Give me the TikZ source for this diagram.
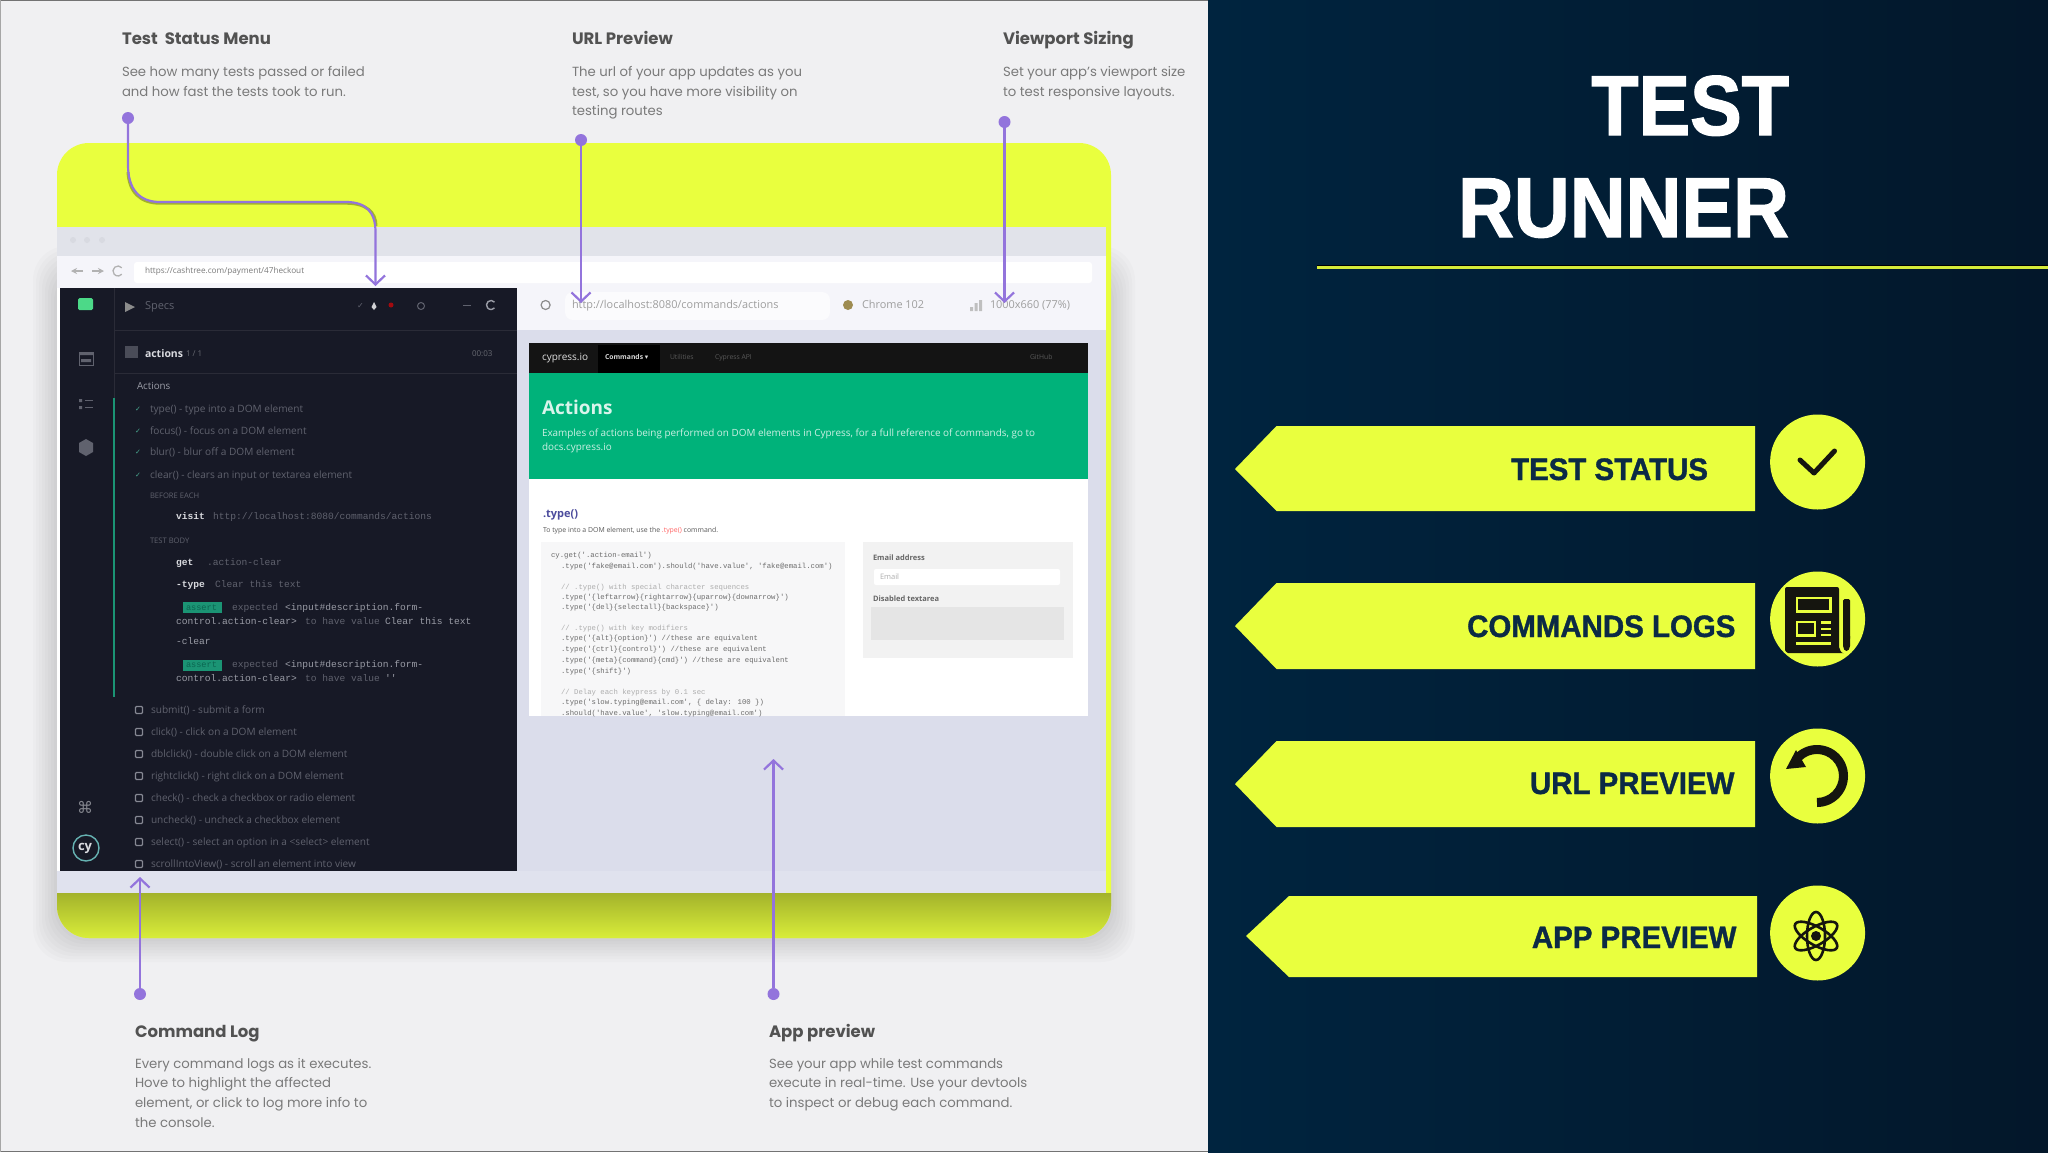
\documentclass[tikz,border=0pt]{standalone}
\usepackage{fontspec}
\usetikzlibrary{arrows.meta,shapes.geometric}
\setmainfont{Poppins}
\newfontfamily\lblfont[FakeStretch=0.95,BoldFeatures={FakeBold=1.2}]{Liberation Sans}
\newfontfamily\ttlfont[FakeStretch=0.91,BoldFeatures={FakeBold=1.5}]{Liberation Sans}
\newfontfamily\uifont{Open Sans}
\newfontfamily\monofont{Liberation Mono}
\newfontfamily\symfont{DejaVu Sans}
\definecolor{panel}{HTML}{F0F0F2}
\definecolor{navyA}{HTML}{00243F}
\definecolor{navyM}{HTML}{001E38}
\definecolor{navyB}{HTML}{03172A}
\definecolor{lime}{HTML}{E9FF3E}
\definecolor{labelink}{HTML}{0B2A45}
\definecolor{iconink}{HTML}{15150F}
\definecolor{conn}{HTML}{9374DC}
\definecolor{dark}{HTML}{171926}
\definecolor{emer}{HTML}{00B27A}
\definecolor{wbg}{HTML}{DBDDEB}
\definecolor{tbar}{HTML}{E1E3EA}
\definecolor{tool}{HTML}{F5F5FA}
\definecolor{dimtxt}{HTML}{60626E}
\definecolor{midtxt}{HTML}{9A9CA6}
\definecolor{hitxt}{HTML}{D9DADF}
\definecolor{tealbar}{HTML}{1B9474}
\newcommand{\fs}[1]{\fontsize{#1}{#1}\selectfont}
\newcommand{\T}[5]{\node[txt,#4] (#1) at (#2,#3) {#5};}
\tikzset{
  txt/.style={inner sep=0,outer sep=0,anchor=mid west},
  head/.style={font=\bfseries\fs{16.5},text=black!68,yshift=-3.5pt},
  desc/.style={font=\fs{13.25},text=black!52,yshift=-2pt},
  lbl/.style={font=\lblfont\bfseries\fs{31},text=labelink,anchor=base east},
  ttl/.style={font=\ttlfont\bfseries\fs{85},text=white,anchor=base east},
  tag/.style={fill=lime,draw=none},
  badge/.style={circle,fill=lime,draw=none,minimum size=95pt,inner sep=0},
  dotn/.style={circle,fill=conn,draw=none,minimum size=12pt,inner sep=0},
  connector/.style={draw=conn,line width=2.2pt,-{Straight Barb[length=9pt,width=19pt,line width=2.2pt]}},
  ink/.style={draw=iconink,line cap=round,line join=round},
  ui/.style={font=\uifont\fs{10.1},text=dimtxt,yshift=-1pt},
  mono/.style={font=\monofont\fs{9.6},text=dimtxt},
  monob/.style={font=\monofont\bfseries\fs{9.6},text=hitxt},
  monoh/.style={font=\monofont\fs{9.6},text=midtxt},
  code/.style={font=\monofont\fs{7.3},text=black!58},
  codec/.style={font=\monofont\fs{7.3},text=black!32},
  tb/.style={font=\uifont\fs{10.9},text=black!38,yshift=-1pt},
}
\begin{document}
\begin{tikzpicture}[x=1pt,y=-1pt]
\useasboundingbox (0,0) rectangle (2048,1152);
% panels
\fill[panel] (0,0) rectangle (1208,1152);
\fill[black!55] (0,0) rectangle (1208,1.2);
\fill[black!55] (0,1150.5) rectangle (1208,1152);
\fill[black!35] (0,0) rectangle (0.8,1152);
\shade[left color=navyA,middle color=navyM,right color=navyB] (1208,0) rectangle (2048,1152);
% soft shadow of the backdrop
\foreach \d in {3,6,...,24}{
  \fill[black,opacity=.016,rounded corners=34pt] (57-\d,270-\d) rectangle (1111+\d,938+\d);
}
% yellow backdrop
\fill[lime,rounded corners=32pt] (57,143) rectangle (1111,938);
\shade[top color=lime!70!black,bottom color=lime!93!black] (57,893) -- (1111,893) {[rounded corners=32pt] -- (1111,938) -- (57,938)} -- cycle;
% browser window
\fill[white] (57,227) rectangle (1106,893);
\fill[tbar] (57,227) rectangle (1106,256);
\fill[black!4!tbar] (73,240) circle (3) (87,240) circle (3) (102,240) circle (3);
\fill[tool] (57,256) rectangle (1106,288);
\fill[white,rounded corners=3pt] (134,262) rectangle (1092,283);
\draw[black!30,line width=1.3pt,-{Stealth[length=6pt,width=6pt]}] (83,271) -- (71,271);
\draw[black!30,line width=1.3pt,-{Stealth[length=6pt,width=6pt]}] (92,271) -- (104,271);
\draw[black!30,line width=1.3pt] (118,271) ++(-40:5) arc (-40:-320:5);
\T{urlbar}{145}{271}{}{\uifont\fs{8.2}\color{black!52}https://cashtree.com/payment/47heckout}
\fill[wbg] (516,288) rectangle (1106,871);
\fill[wbg!85!white] (57,871) rectangle (1106,893);
% app toolbar
\fill[tool] (516,288) rectangle (1106,330);
\draw[black!45,line width=1.2pt] (545.6,305) circle (4.5);
\fill[tool!40!white,rounded corners=8pt] (565,292) rectangle (830,320);
\T{apurl}{572}{305}{tb}{http://localhost:8080/commands/actions}
\fill[black!55!yellow!60!brown] (848,305) circle (5);
\T{apbrow}{862}{305}{tb}{Chrome 102}
\fill[black!25] (970,307) rectangle (973,311) (974.5,303) rectangle (977.5,311) (979,300) rectangle (982,311);
\T{apsize}{990}{305}{tb}{1000x660 (77\%)}
% iframe
\fill[white] (528.5,343) rectangle (1088,716);
\fill[black!92] (528.5,343) rectangle (1088,373);
\fill[black] (598,345) rectangle (660,373);
\T{navbrand}{542}{358}{}{\uifont\fs{10}\color{white!88!black}cypress.io}
\T{navcmd}{605}{357}{}{\uifont\bfseries\fs{6.8}\color{white!85!black}Commands {\symfont▾}}
\T{navutil}{670}{357}{}{\uifont\fs{6.8}\color{black!65}Utilities}
\T{navapi}{715}{357}{}{\uifont\fs{6.8}\color{black!65}Cypress API}
\T{navgit}{1030}{357}{}{\uifont\fs{6.8}\color{black!65}GitHub}
\fill[emer] (528.5,373) rectangle (1088,479);
\T{acttl}{542}{411.5}{}{\uifont\bfseries\fs{19}\color{white!85!emer}Actions}
\T{acsub}{542}{434}{}{\uifont\fs{9.9}\color{white!80!emer}Examples of actions being performed on DOM elements in Cypress, for a full reference of commands, go to}
\T{acsub2}{542}{448}{}{\uifont\fs{9.9}\color{white!80!emer}docs.cypress.io}
\T{tyh}{543}{515}{}{\uifont\bfseries\fs{11}\color{blue!45!black!70}.type()}
\T{tyd}{543}{530}{}{\uifont\fs{6.9}\color{black!65}To type into a DOM element, use the \textcolor{red!60}{.type()} command.}
\fill[blue!2!black!3!white] (541,542) rectangle (845,716);
\T{c01}{551}{555}{code}{cy.get('.action-email')}
\T{c02}{561}{566}{code}{.type('fake@email.com').should('have.value', 'fake@email.com')}
\T{c03}{561}{587}{codec}{// .type() with special character sequences}
\T{c04}{561}{597}{code}{.type('\{leftarrow\}\{rightarrow\}\{uparrow\}\{downarrow\}')}
\T{c05}{561}{607}{code}{.type('\{del\}\{selectall\}\{backspace\}')}
\T{c06}{561}{628}{codec}{// .type() with key modifiers}
\T{c07}{561}{638}{code}{.type('\{alt\}\{option\}') //these are equivalent}
\T{c08}{561}{649}{code}{.type('\{ctrl\}\{control\}') //these are equivalent}
\T{c09}{561}{660}{code}{.type('\{meta\}\{command\}\{cmd\}') //these are equivalent}
\T{c10}{561}{671}{code}{.type('\{shift\}')}
\T{c11}{561}{692}{codec}{// Delay each keypress by 0.1 sec}
\T{c12}{561}{702}{code}{.type('slow.typing@email.com', \{ delay: 100 \})}
\T{c13}{561}{712.5}{code}{.should('have.value', 'slow.typing@email.com')}
\fill[black!5] (862.5,542) rectangle (1073,658);
\T{f1}{873}{558}{}{\uifont\bfseries\fs{7.5}\color{black!60}Email address}
\fill[white,rounded corners=2pt] (874,569) rectangle (1060,585);
\T{f2}{880}{577}{}{\uifont\fs{7.5}\color{black!32}Email}
\T{f3}{873}{599}{}{\uifont\bfseries\fs{7.5}\color{black!60}Disabled textarea}
\fill[black!10] (871,607) rectangle (1064,640);
% command log panel
\fill[dark] (60,288) rectangle (517,871);
\draw[white!8!dark,line width=.8pt] (114,288) -- (114,398);
\draw[white!8!dark,line width=.8pt] (114,330) -- (517,330);
\draw[white!8!dark,line width=.8pt] (114,373) -- (517,373);
\fill[emer!70!green!70!white,rounded corners=1.5pt] (78,298) rectangle (93,310);
\fill[black!45] (125,302) -- (135,307) -- (125,312) -- cycle;
\T{specs}{145}{307}{}{\uifont\fs{11}\color{dimtxt}Specs}
\T{st1}{357}{306}{}{\symfont\fs{8}\color{dimtxt}✓}
\fill[white!80!dark] (374,302) -- (376.5,307) -- (374,310) -- (371.5,307) -- cycle;
\fill[red!60!dark] (391,305) circle (2.5);
\draw[dimtxt,line width=1pt] (421,306) circle (3.5);
\draw[dimtxt,line width=1pt] (463,305) -- (471,305);
\draw[midtxt,line width=1.4pt] (491,305) ++(-40:4.5) arc (-40:-320:4.5);
% sidebar icons
\draw[dimtxt,line width=1pt] (79,352) rectangle (93,365);
\fill[dimtxt] (79,352) rectangle (93,355) (81,359) rectangle (91,362);
\fill[dimtxt] (79,399) rectangle (82,402) (79,406) rectangle (82,409);
\draw[dimtxt,line width=1pt] (85,400.5) -- (93,400.5) (85,407.5) -- (93,407.5);
\fill[dimtxt] (86,439) -- (93,443) -- (93,452) -- (86,456) -- (79,452) -- (79,443) -- cycle;
\T{cmdk}{77}{811}{}{\symfont\fs{16}\color{midtxt!85!black}⌘}
\draw[teal!60!white,line width=1.4pt] (86,848) circle (13);
\T{cylogo}{78}{848}{}{\uifont\bfseries\fs{13}\color{hitxt}cy}
% suite rows
\fill[dimtxt!70!dark] (125,346) rectangle (138,358);
\T{suite}{145}{354.5}{}{\uifont\bfseries\fs{10.5}\color{hitxt}actions}
\T{suiten}{186}{354}{}{\uifont\fs{8}\color{dark!65!white}1 / 1}
\T{suitet}{472}{354}{}{\uifont\fs{8}\color{dark!65!white}00:03}
\T{grp}{137}{387}{}{\uifont\fs{9.8}\color{midtxt}Actions}
\draw[tealbar,line width=2.6pt] (114,398) -- (114,697);
\foreach \y/\s [count=\n] in {409/{type() - type into a DOM element},431/{focus() - focus on a DOM element},452/{blur() - blur off a DOM element},475/{clear() - clears an input or textarea element}}{
  \node[txt,font=\symfont\fs{7},text=tealbar!80!white] (ck\n) at (135,\y) {✓};
  \node[txt,ui] (tr\n) at (150,\y) {\s};
}
\T{beforeh}{150}{496}{}{\uifont\fs{7.6}\color{dimtxt}BEFORE EACH}
\T{visit}{176}{517}{monob}{visit}
\T{visitu}{213}{517}{mono}{http://localhost:8080/commands/actions}
\T{testh}{150}{541}{}{\uifont\fs{7.6}\color{dimtxt}TEST BODY}
\T{get}{176}{563}{monob}{get}
\T{getv}{207}{563}{mono}{.action-clear}
\T{typ}{176}{585}{monob}{-type}
\T{typv}{215}{585}{mono}{Clear this text}
\fill[tealbar] (183,602) rectangle (222,613);
\T{as1}{186}{608}{}{\monofont\fs{8.6}\color{emer!50!dark}assert}
\T{ex1}{232}{608}{mono}{expected}
\T{ex1b}{285}{608}{monoh}{<input\#description.form-}
\T{ex2}{176}{622}{monoh}{control.action-clear>}
\T{ex2b}{305}{622}{mono}{to have value}
\T{ex2c}{385}{622}{monoh}{Clear this text}
\T{clr}{176}{642}{monoh}{-clear}
\fill[tealbar] (183,660) rectangle (222,671);
\T{as2}{186}{665}{}{\monofont\fs{8.6}\color{emer!50!dark}assert}
\T{ex3}{232}{665}{mono}{expected}
\T{ex3b}{285}{665}{monoh}{<input\#description.form-}
\T{ex4}{176}{679}{monoh}{control.action-clear>}
\T{ex4b}{305}{679}{mono}{to have value}
\T{ex4c}{385}{679}{monoh}{''}
\foreach \y/\s [count=\n] in {710/{submit() - submit a form},732/{click() - click on a DOM element},754/{dblclick() - double click on a DOM element},776/{rightclick() - right click on a DOM element},798/{check() - check a checkbox or radio element},820/{uncheck() - uncheck a checkbox element},842/{select() - select an option in a <select> element},864/{scrollIntoView() - scroll an element into view}}{
  \draw[midtxt!85!dark,line width=1.3pt,rounded corners=1pt] (135.5,\y-3.5) rectangle (142.5,\y+3.5);
  \node[txt,ui] (pd\n) at (151,\y) {\s};
}
% annotations
\T{h1}{122}{38}{head}{Test\ \ Status Menu}
\T{d1a}{122}{72}{desc}{See how many tests passed or failed}
\T{d1b}{122}{91.5}{desc}{and how fast the tests took to run.}
\T{h2}{572}{38}{head}{URL Preview}
\T{d2a}{572}{72}{desc}{The url of your app updates as you}
\T{d2b}{572}{91.5}{desc}{test, so you have more visibility on}
\T{d2c}{572}{111}{desc}{testing routes}
\T{h3}{1003}{38}{head}{Viewport Sizing}
\T{d3a}{1003}{72}{desc}{Set your app's viewport size}
\T{d3b}{1003}{91.5}{desc}{to test responsive layouts.}
\T{h4}{135}{1031}{head}{Command Log}
\T{d4a}{135}{1064}{desc}{Every command logs as it executes.}
\T{d4b}{135}{1083}{desc}{Hove to highlight the affected}
\T{d4c}{135}{1103}{desc}{element, or click to log more info to}
\T{d4d}{135}{1122.5}{desc}{the console.}
\T{h5}{769}{1031}{head}{App preview}
\T{d5a}{769}{1064}{desc}{See your app while test commands}
\T{d5b}{769}{1083}{desc}{execute in real-time. Use your devtools}
\T{d5c}{769}{1103}{desc}{to inspect or debug each command.}
% connectors
\node[dotn] (dotA) at (128,118) {};
\coordinate (endA) at (375.5,286);
\draw[black,line width=3pt,opacity=.3] (128,172) .. controls (129,192) and (140,203.2) .. (160,203.2) -- (346,203.2) .. controls (366,203.2) and (376,212) .. (376,226);
\draw[connector] (dotA) -- (128,165) .. controls (128,190) and (140,202) .. (160,202) -- (346,202) .. controls (366,202) and (375.5,212) .. (375.5,232) -- (endA);
\node[dotn] (dotB) at (581,140) {};
\coordinate (endB) at (581,303);
\draw[connector] (dotB) -- (endB);
\node[dotn] (dotC) at (1004.5,122) {};
\coordinate (endC) at (1004.5,303);
\draw[connector] (dotC) -- (endC);
\node[dotn] (dotD) at (140,994) {};
\coordinate (endD) at (140,877);
\draw[connector] (dotD) -- (endD);
\node[dotn] (dotE) at (773.5,994) {};
\coordinate (endE) at (773.5,759);
\draw[connector] (dotE) -- (endE);
% right side
\node[ttl] (ttlA) at (1792.5,135) {TEST};
\node[ttl] (ttlB) at (1792.5,237) {RUNNER};
\draw[black,line width=1pt] (1317,265.8) -- (2048,265.8);
\draw[lime!92!black,line width=2.2pt] (1317,267.5) -- (2048,267.5);
\fill[tag] (1235,469) -- (1276.5,426) -- (1755,426) -- (1755,511) -- (1276.5,511) -- cycle;
\fill[tag] (1235,626) -- (1276.5,583) -- (1755,583) -- (1755,669) -- (1276.5,669) -- cycle;
\fill[tag] (1235,784) -- (1276.5,741) -- (1755,741) -- (1755,827) -- (1276.5,827) -- cycle;
\fill[tag] (1246,936) -- (1289,896) -- (1757,896) -- (1757,977) -- (1289,977) -- cycle;
\node[lbl] (lA) at (1711.5,480) {TEST STATUS};
\node[lbl] (lB) at (1739,637) {COMMANDS LOGS};
\node[lbl] (lC) at (1738,794) {URL PREVIEW};
\node[lbl] (lD) at (1740,948) {APP PREVIEW};
\node[badge] (bA) at (1817.6,462) {};
\node[badge] (bB) at (1817.6,619) {};
\node[badge] (bC) at (1817.6,776) {};
\node[badge] (bD) at (1817.6,933) {};
% check
\draw[ink,line width=5pt] (1800,460) -- (1814,473) -- (1834.5,451);
% newspaper
\fill[iconink,rounded corners=2pt] (1785,587) -- (1839,587) -- (1839,645) .. controls (1839,650) and (1842,653) .. (1845,653) -- (1790,653) .. controls (1787,653) and (1785,651) .. (1785,648) -- cycle;
\draw[lime,line width=2.2pt] (1797,598) rectangle (1830.5,611.5);
\draw[lime,line width=2.2pt] (1797,622) rectangle (1815,635.5);
\draw[lime,line width=2.2pt] (1821,622.5) -- (1831,622.5) (1821,629) -- (1831,629) (1821,635) -- (1831,635) (1796,643.5) -- (1831,643.5);
\fill[iconink,rounded corners=1.5pt] (1843,599) rectangle (1850,640);
\fill[iconink] (1843,636) -- (1850,636) -- (1850,646) .. controls (1850,649) and (1848,651) .. (1846.5,651) .. controls (1845,651) and (1843,649) .. (1843,646) -- cycle;
% undo
\fill[iconink] (1817,807) arc (90:-135:31) -- (1801.4,760.4) arc (-135:90:22) -- cycle;
\fill[iconink] (1786,769) -- (1796,750) -- (1806,767) -- cycle;
% atom
\begin{scope}[shift={(1816,936)}]
\draw[iconink,line width=2.6pt,rotate=90] (0,0) ellipse [x radius=24,y radius=9];
\draw[iconink,line width=2.6pt,rotate=30] (0,0) ellipse [x radius=24,y radius=9];
\draw[iconink,line width=2.6pt,rotate=-30] (0,0) ellipse [x radius=24,y radius=9];
\fill[iconink] (0,0) circle (5);
\end{scope}
\end{tikzpicture}
\end{document}
